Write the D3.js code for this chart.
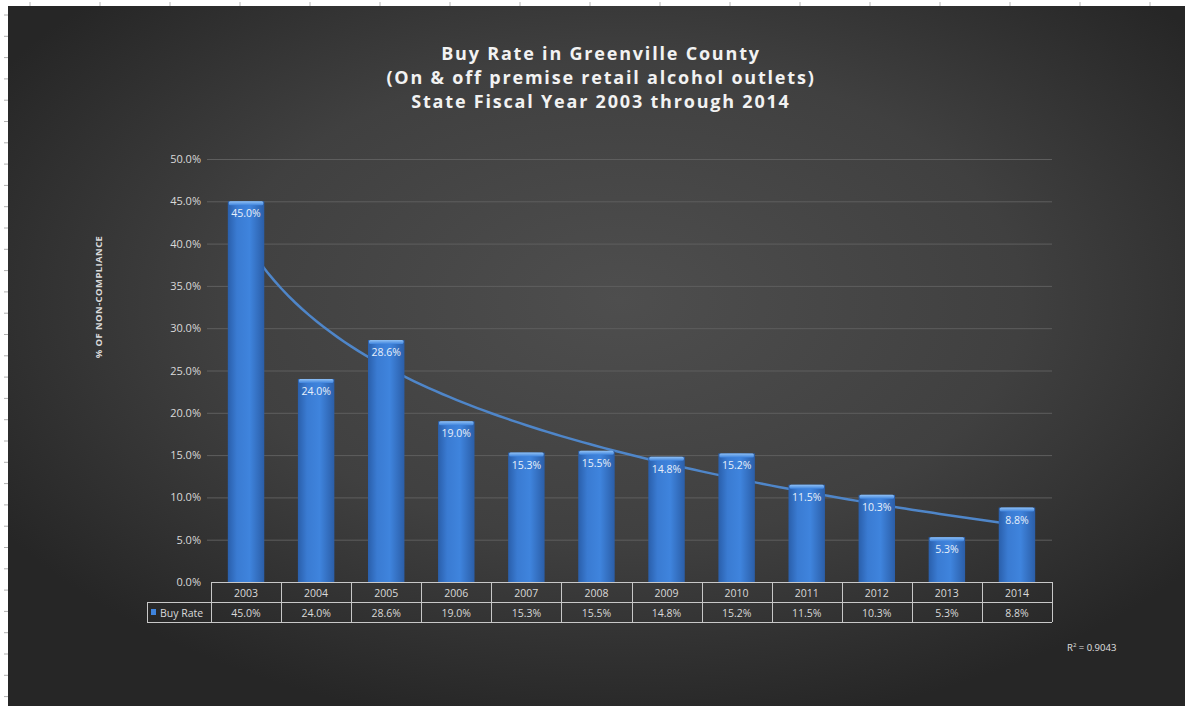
<!DOCTYPE html>
<html>
<head>
<meta charset="utf-8">
<script src="https://cdn.jsdelivr.net/npm/d3@7"></script>
<style>
    html, body { margin: 0; padding: 0; background: #fff; }
    svg { display: block; }
    text { font-family: "Open Sans", "Noto Sans", sans-serif; }
</style>
</head>
<body>
<div id="chart"></div>
<script>
var years = ["2003", "2004", "2005", "2006", "2007", "2008", "2009", "2010", "2011", "2012", "2013", "2014"];
var buyRate = [45.0, 24.0, 28.6, 19.0, 15.3, 15.5, 14.8, 15.2, 11.5, 10.3, 5.3, 8.8];
var yTicks = [0, 5, 10, 15, 20, 25, 30, 35, 40, 45, 50];
var titleLines = [
    "Buy Rate in Greenville County",
    "(On & off premise retail alcohol outlets)",
    "State Fiscal Year 2003 through 2014"
];
var seriesName = "Buy Rate";
var rSquared = "0.9043";

var width = 1185,
    height = 706;

var svg = d3.select("#chart")
    .append("svg")
    .attr("width", width)
    .attr("height", height);

var defs = svg.append("defs");

var bg = defs.append("radialGradient")
    .attr("id", "bg")
    .attr("cx", "0.52").attr("cy", "0.42").attr("r", "0.62");
bg.append("stop").attr("offset", "0%").attr("stop-color", "#4e4e4e");
bg.append("stop").attr("offset", "55%").attr("stop-color", "#404040");
bg.append("stop").attr("offset", "100%").attr("stop-color", "#262626");

var barGrad = defs.append("linearGradient")
    .attr("id", "barGrad")
    .attr("x1", "0").attr("x2", "1").attr("y1", "0").attr("y2", "0");
barGrad.append("stop").attr("offset", "0%").attr("stop-color", "#2a5fab");
barGrad.append("stop").attr("offset", "25%").attr("stop-color", "#3a7bd2");
barGrad.append("stop").attr("offset", "60%").attr("stop-color", "#3f84dd");
barGrad.append("stop").attr("offset", "100%").attr("stop-color", "#2b5ea8");

var capGrad = defs.append("linearGradient")
    .attr("id", "capGrad")
    .attr("x1", "0").attr("x2", "0").attr("y1", "0").attr("y2", "1");
capGrad.append("stop").attr("offset", "0%").attr("stop-color", "#8fc0f5");
capGrad.append("stop").attr("offset", "100%").attr("stop-color", "#3f84dd");

// sheet edge (white strips with grid ticks) and chart background
svg.append("rect").attr("width", width).attr("height", height).attr("fill", "#ffffff");
svg.append("rect")
    .attr("x", 8).attr("y", 6)
    .attr("width", width - 8).attr("height", height - 6)
    .attr("fill", "url(#bg)");

svg.selectAll(".rowTick")
    .data(d3.range(15, height, 21.3))
    .enter()
    .append("line")
    .attr("x1", 4).attr("x2", 8)
    .attr("y1", function (d) { return d; }).attr("y2", function (d) { return d; })
    .attr("stroke", "#b0b0b0");

svg.selectAll(".colTick")
    .data(d3.range(30, width, 70))
    .enter()
    .append("line")
    .attr("x1", function (d) { return d; }).attr("x2", function (d) { return d; })
    .attr("y1", 2).attr("y2", 6)
    .attr("stroke", "#b8b8b8");

var plot = { left: 211, right: 1052, top: 159, bottom: 582 };

var x = d3.scaleBand()
    .domain(years)
    .range([plot.left, plot.right])
    .paddingInner(0.48)
    .paddingOuter(0.24);

var y = d3.scaleLinear()
    .domain([0, 50])
    .range([plot.bottom, plot.top]);

// title
svg.append("g")
    .selectAll("text")
    .data(titleLines)
    .enter()
    .append("text")
    .attr("x", 601)
    .attr("y", function (d, i) { return 60 + i * 24; })
    .attr("text-anchor", "middle")
    .attr("fill", "#f2f2f2")
    .attr("font-size", "18px")
    .attr("font-weight", "bold")
    .attr("letter-spacing", "1.8px")
    .text(function (d) { return d; });

// gridlines
svg.append("g")
    .selectAll("line")
    .data(yTicks.slice(1))
    .enter()
    .append("line")
    .attr("x1", plot.left - 4)
    .attr("x2", plot.right)
    .attr("y1", function (d) { return y(d) + 0.5; })
    .attr("y2", function (d) { return y(d) + 0.5; })
    .attr("stroke", "#5e5e5e")
    .attr("stroke-width", 1);

// y axis labels
var yAxis = d3.axisLeft(y)
    .tickValues(yTicks)
    .tickFormat(function (d) { return d.toFixed(1) + "%"; })
    .tickSize(0)
    .tickPadding(10);

var yAxisG = svg.append("g")
    .attr("transform", "translate(" + plot.left + ",0)")
    .call(yAxis);
yAxisG.select(".domain").remove();
yAxisG.selectAll("text")
    .attr("fill", "#d9d9d9")
    .attr("font-size", "11px")
    .attr("font-family", "\"Open Sans\", sans-serif");

svg.append("text")
    .attr("transform", "translate(102,297) rotate(-90)")
    .attr("text-anchor", "middle")
    .attr("fill", "#d9d9d9")
    .attr("font-size", "9.5px")
    .attr("font-weight", "bold")
    .attr("letter-spacing", "0.4px")
    .text("% OF NON-COMPLIANCE");

// logarithmic trendline, least squares on ln(index), drawn behind the bars
var lx = buyRate.map(function (d, i) { return Math.log(i + 1); });
var mx = d3.mean(lx), my = d3.mean(buyRate);
var slope = d3.sum(lx, function (v, i) { return (v - mx) * (buyRate[i] - my); }) /
    d3.sum(lx, function (v) { return (v - mx) * (v - mx); });
var intercept = my - slope * mx;
var trendPts = d3.range(1, 12.001, 0.1).map(function (t) {
    var px = x(years[0]) + x.bandwidth() / 2 + (t - 1) * x.step();
    return [px, y(intercept + slope * Math.log(t))];
});

svg.append("path")
    .attr("d", d3.line()(trendPts))
    .attr("fill", "none")
    .attr("stroke", "#4f86c9")
    .attr("stroke-width", 2.5);

// bars
var bars = svg.append("g")
    .selectAll("g")
    .data(buyRate)
    .enter()
    .append("g");

bars.append("rect")
    .attr("x", function (d, i) { return x(years[i]); })
    .attr("y", function (d) { return y(d); })
    .attr("width", x.bandwidth())
    .attr("height", function (d) { return y(0) - y(d); })
    .attr("fill", "url(#barGrad)");

bars.append("rect")
    .attr("x", function (d, i) { return x(years[i]) + 1; })
    .attr("y", function (d) { return y(d); })
    .attr("width", x.bandwidth() - 2)
    .attr("height", 4)
    .attr("rx", 1.5)
    .attr("fill", "url(#capGrad)");

// bar labels
svg.append("g")
    .selectAll("text")
    .data(buyRate)
    .enter()
    .append("text")
    .attr("x", function (d, i) { return x(years[i]) + x.bandwidth() / 2; })
    .attr("y", function (d) { return y(d) + 16; })
    .attr("text-anchor", "middle")
    .attr("fill", "#e8f0fa")
    .attr("font-size", "10.5px")
    .text(function (d) { return d.toFixed(1) + "%"; });

// data table
var table = svg.append("g").attr("stroke", "#c8c8c8").attr("fill", "none");
var rowTop = plot.bottom, rowMid = plot.bottom + 20, rowBot = plot.bottom + 40, labelLeft = 147;

table.append("line").attr("x1", plot.left).attr("x2", plot.right).attr("y1", rowTop + 0.5).attr("y2", rowTop + 0.5);
table.append("line").attr("x1", labelLeft).attr("x2", plot.right).attr("y1", rowMid + 0.5).attr("y2", rowMid + 0.5);
table.append("line").attr("x1", labelLeft).attr("x2", plot.right).attr("y1", rowBot + 0.5).attr("y2", rowBot + 0.5);
table.append("line").attr("x1", labelLeft + 0.5).attr("x2", labelLeft + 0.5).attr("y1", rowMid).attr("y2", rowBot);
table.selectAll(".col")
    .data(years.concat(["end"]))
    .enter()
    .append("line")
    .attr("x1", function (d, i) { return Math.round(plot.left + i * x.step()) + 0.5; })
    .attr("x2", function (d, i) { return Math.round(plot.left + i * x.step()) + 0.5; })
    .attr("y1", rowTop)
    .attr("y2", rowBot);

svg.append("g")
    .selectAll("text")
    .data(years)
    .enter()
    .append("text")
    .attr("x", function (d) { return x(d) + x.bandwidth() / 2; })
    .attr("y", rowTop + 15)
    .attr("text-anchor", "middle")
    .attr("fill", "#d9d9d9")
    .attr("font-size", "10.5px")
    .text(function (d) { return d; });

svg.append("g")
    .selectAll("text")
    .data(buyRate)
    .enter()
    .append("text")
    .attr("x", function (d, i) { return x(years[i]) + x.bandwidth() / 2; })
    .attr("y", rowMid + 15)
    .attr("text-anchor", "middle")
    .attr("fill", "#d9d9d9")
    .attr("font-size", "10.5px")
    .text(function (d) { return d.toFixed(1) + "%"; });

svg.append("rect")
    .attr("x", labelLeft + 4).attr("y", rowMid + 7)
    .attr("width", 5).attr("height", 6)
    .attr("fill", "#3f84dd");

svg.append("text")
    .attr("x", labelLeft + 13)
    .attr("y", rowMid + 15)
    .attr("fill", "#d9d9d9")
    .attr("font-size", "10.5px")
    .text(seriesName);

// r squared
var r2 = svg.append("text")
    .attr("x", 1067)
    .attr("y", 651)
    .attr("fill", "#e0e0e0")
    .attr("font-size", "9.5px");
r2.append("tspan").text("R");
r2.append("tspan").attr("dy", -4).attr("font-size", "6px").text("2");
r2.append("tspan").attr("dy", 4).text(" = " + rSquared);
</script>
</body>
</html>
